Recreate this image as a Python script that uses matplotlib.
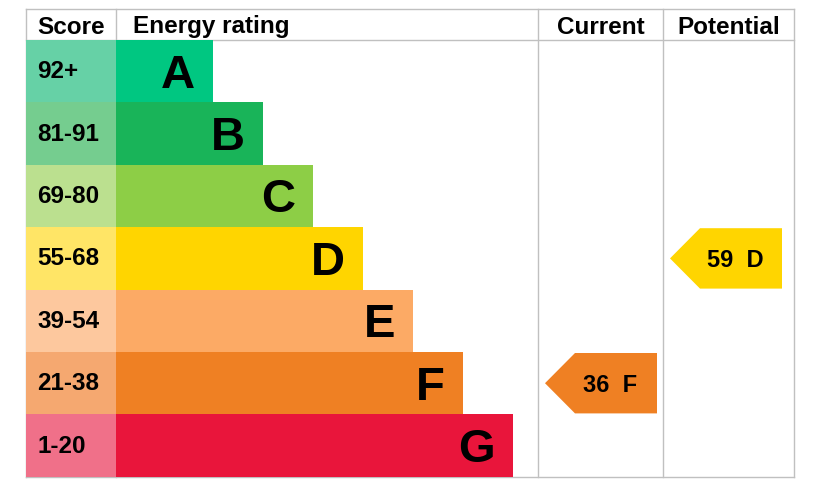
import matplotlib
matplotlib.use("Agg")
import matplotlib.pyplot as plt
from matplotlib.patches import Polygon

plt.rcParams['font.family'] = ['Liberation Sans', 'DejaVu Sans']

ratings = ['A', 'B', 'C', 'D', 'E', 'F', 'G']
scores = ['92+', '81-91', '69-80', '55-68', '39-54', '21-38', '1-20']
bar_colors = ['#00c781', '#19b459', '#8dce46', '#ffd500', '#fcaa65', '#ef8023', '#e9153b']
score_colors = ['#66d1a6', '#75cd8f', '#bbe08f', '#ffe566', '#fdc89e', '#f5a870', '#f07089']
current_value, current_rating = 36, 'F'
potential_value, potential_rating = 59, 'D'

W, H = 813, 485
fig = plt.figure(figsize=(W / 100, H / 100), dpi=100)
ax = fig.add_axes([0, 0, 1, 1])
ax.set_xlim(0, W)
ax.set_ylim(H, 0)
ax.axis('off')

left, score_r, cur_l, pot_l, right = 26, 116, 538, 663, 794
top, head_b = 10, 41
row_h = 62.4
bar_step = 50
bar_base = 97

grid = '#c0c0c0'
for y in [top, head_b, head_b + row_h * 7]:
    ax.plot([left, right], [y, y], color=grid, lw=1, zorder=1)
for x in [left, score_r, cur_l, pot_l, right]:
    ax.plot([x, x], [top, head_b + row_h * 7], color=grid, lw=1, zorder=1)

hfs = 17.5
hb = 33.5
ax.text(37, hb, 'Score', fontsize=hfs, fontweight='bold', ha='left', va='baseline')
ax.text(133, hb, 'Energy rating', fontsize=hfs, fontweight='bold', ha='left', va='baseline')
ax.text((cur_l + pot_l) / 2, hb, 'Current', fontsize=hfs, fontweight='bold', ha='center', va='baseline')
ax.text((pot_l + right) / 2, hb, 'Potential', fontsize=hfs, fontweight='bold', ha='center', va='baseline')

ys = [head_b + row_h * i + row_h / 2 for i in range(7)]
widths = [bar_base + bar_step * i for i in range(7)]
ax.barh(ys, [score_r - left] * 7, left=left, height=row_h, color=score_colors, zorder=2, linewidth=0)
ax.barh(ys, widths, left=score_r, height=row_h, color=bar_colors, zorder=2, linewidth=0)
for y, s, r, w in zip(ys, scores, ratings, widths):
    ax.text(37, y + 6, s, fontsize=17.5, fontweight='bold', ha='left', va='baseline', zorder=3)
    ax.text(score_r + w - 18, y + 15.5, r, fontsize=34, fontweight='bold', ha='right', va='baseline', zorder=3)

def arrow(value, rating, x_tip, x_right):
    i = ratings.index(rating)
    y = ys[i]
    h = row_h - 2
    pts = [(x_tip, y), (x_tip + 30, y - h / 2), (x_right, y - h / 2), (x_right, y + h / 2), (x_tip + 30, y + h / 2)]
    ax.add_patch(Polygon(pts, closed=True, facecolor=bar_colors[i], edgecolor='none', zorder=3))
    ax.text((x_tip + 30 + x_right) / 2 - 6, y + 8, f'{value}  {rating}', fontsize=17, fontweight='bold',
            ha='center', va='baseline', zorder=4)

arrow(current_value, current_rating, 545, 657)
arrow(potential_value, potential_rating, 670, 782)

fig.savefig('out.png', dpi=100)
